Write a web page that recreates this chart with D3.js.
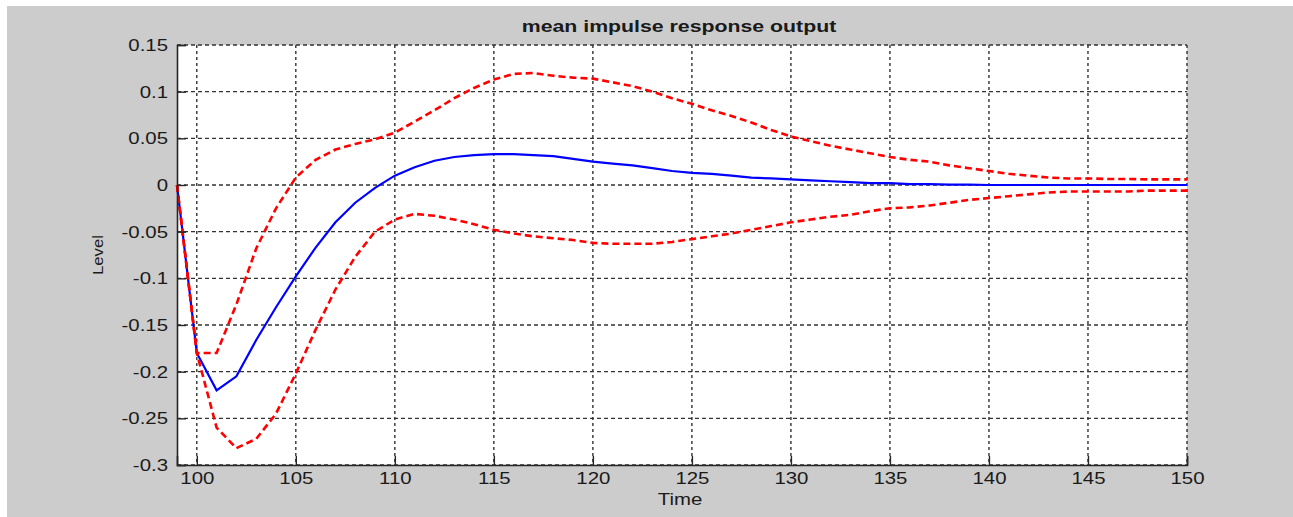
<!DOCTYPE html>
<html>
<head>
<meta charset="utf-8">
<script src="https://cdn.jsdelivr.net/npm/d3@7"></script>
<style>
  html, body { margin: 0; padding: 0; background: #ffffff; }
  svg { display: block; }
  text { font-family: "Liberation Sans", Arial, sans-serif; fill: #1a1a1a; }
</style>
</head>
<body>
<svg id="chart" width="1293" height="517"></svg>
<script>
// ---- data ----
const time = [99,100,101,102,103,104,105,106,107,108,109,110,111,112,113,114,115,116,117,118,119,120,
  121,122,123,124,125,126,127,128,129,130,131,132,133,134,135,136,137,138,139,140,141,142,143,144,145,146,147,148,149,150];
const meanResponse = [0,-0.18,-0.22,-0.205,-0.166,-0.131,-0.098,-0.067,-0.040,-0.019,-0.003,0.010,
  0.019,0.026,0.030,0.032,0.033,0.033,0.032,0.031,0.028,0.025,0.023,0.021,0.018,0.015,0.013,0.012,0.010,0.008,
  0.007,0.006,0.005,0.004,0.003,0.002,0.002,0.001,0.001,0.0005,0.0005,0,0,0,0,0,0,0,0,0,0,0];
const upperBand = [0,-0.18,-0.18,-0.128,-0.068,-0.025,0.008,0.027,0.038,0.044,0.049,0.056,
  0.068,0.080,0.093,0.104,0.113,0.119,0.120,0.117,0.115,0.114,0.110,0.106,0.100,0.093,0.087,0.080,0.074,0.067,
  0.059,0.052,0.047,0.042,0.038,0.034,0.030,0.027,0.025,0.021,0.018,0.015,0.012,0.010,0.008,0.007,0.007,0.0065,0.0065,0.006,0.006,0.006];
const lowerBand = [0,-0.18,-0.26,-0.282,-0.272,-0.245,-0.202,-0.155,-0.112,-0.077,-0.050,-0.037,
  -0.031,-0.033,-0.037,-0.042,-0.048,-0.052,-0.055,-0.057,-0.059,-0.062,-0.063,-0.063,-0.063,-0.061,-0.058,-0.055,-0.052,-0.048,
  -0.044,-0.040,-0.037,-0.034,-0.032,-0.028,-0.025,-0.024,-0.022,-0.019,-0.016,-0.014,-0.012,-0.010,-0.008,-0.007,-0.007,-0.007,-0.007,-0.006,-0.006,-0.006];
const xTicks = [100,105,110,115,120,125,130,135,140,145,150];
const yTicks = [0.15,0.1,0.05,0,-0.05,-0.1,-0.15,-0.2,-0.25,-0.3];
const titleText = "mean impulse response output";
const xLabelText = "Time";
const yLabelText = "Level";

// ---- layout ----
const svg = d3.select("#chart");
const L = 177, T = 45, R = 1187, B = 465;

svg.append("rect").attr("x", 7).attr("y", 6).attr("width", 1286).attr("height", 511).attr("fill", "#cccccc");
svg.append("rect").attr("x", L).attr("y", T).attr("width", R - L).attr("height", B - T).attr("fill", "#ffffff");

const x = d3.scaleLinear().domain([99, 150]).range([L, R]);
const y = d3.scaleLinear().domain([-0.3, 0.15]).range([B, T]);

function widen(stretch) {
  return sel => sel.each(function() {
    const w = this.getComputedTextLength();
    d3.select(this).attr("textLength", w * stretch).attr("lengthAdjust", "spacingAndGlyphs");
  });
}

// grid
const grid = svg.append("g");
grid.selectAll("line.vg").data(xTicks).join("line")
  .attr("x1", d => x(d)).attr("x2", d => x(d)).attr("y1", T).attr("y2", B)
  .attr("stroke", "#222").attr("stroke-width", 1.3).attr("stroke-dasharray", "3,3");
grid.selectAll("line.hg").data(yTicks).join("line")
  .attr("x1", L).attr("x2", R).attr("y1", d => y(d)).attr("y2", d => y(d))
  .attr("stroke", "#333").attr("stroke-width", 1.3).attr("stroke-dasharray", "4,3");

// lines
const line = d3.line().x((d, i) => x(time[i])).y(d => y(d));
svg.append("path").datum(meanResponse).attr("d", line)
  .attr("fill", "none").attr("stroke", "#0000ff").attr("stroke-width", 2.2);
svg.append("path").datum(upperBand).attr("d", line)
  .attr("fill", "none").attr("stroke", "#ff0000").attr("stroke-width", 2.6).attr("stroke-dasharray", "7,4");
svg.append("path").datum(lowerBand).attr("d", line)
  .attr("fill", "none").attr("stroke", "#ff0000").attr("stroke-width", 2.6).attr("stroke-dasharray", "7,4");

// axes
const xAxis = d3.axisBottom(x).tickValues(xTicks).tickSize(-9).tickPadding(7).tickFormat(d3.format("d"));
const yAxis = d3.axisLeft(y).tickValues(yTicks).tickSize(-9).tickPadding(9).tickFormat(d => d === 0 ? "0" : String(d));

const gx = svg.append("g").attr("transform", `translate(0,${B})`).call(xAxis);
const gy = svg.append("g").attr("transform", `translate(${L},0)`).call(yAxis);
[gx, gy].forEach(g => {
  g.select(".domain").attr("stroke", "#262626").attr("stroke-width", 1.6);
  g.selectAll(".tick line").attr("stroke", "#262626").attr("stroke-width", 1.4);
  g.selectAll(".tick text").attr("font-family", "'Liberation Sans', Arial, sans-serif")
    .attr("font-size", 17).attr("fill", "#1a1a1a");
});
gx.selectAll(".tick text").attr("dy", "0.71em").call(widen(1.2));
gy.selectAll(".tick text").call(widen(1.2));

// title & labels
svg.append("text").attr("x", (L + R) / 2 - 3).attr("y", 32).attr("text-anchor", "middle")
  .attr("font-size", 16).attr("font-weight", "bold").attr("fill", "#111").text(titleText).call(widen(1.33));
svg.append("text").attr("x", (L + R) / 2 - 2).attr("y", 505).attr("text-anchor", "middle")
  .attr("font-size", 17).text(xLabelText).call(widen(1.2));
svg.append("text").attr("transform", `translate(103,${(T + B) / 2}) rotate(-90)`).attr("text-anchor", "middle")
  .attr("font-size", 14).text(yLabelText).call(widen(1.2));
</script>
</body>
</html>
